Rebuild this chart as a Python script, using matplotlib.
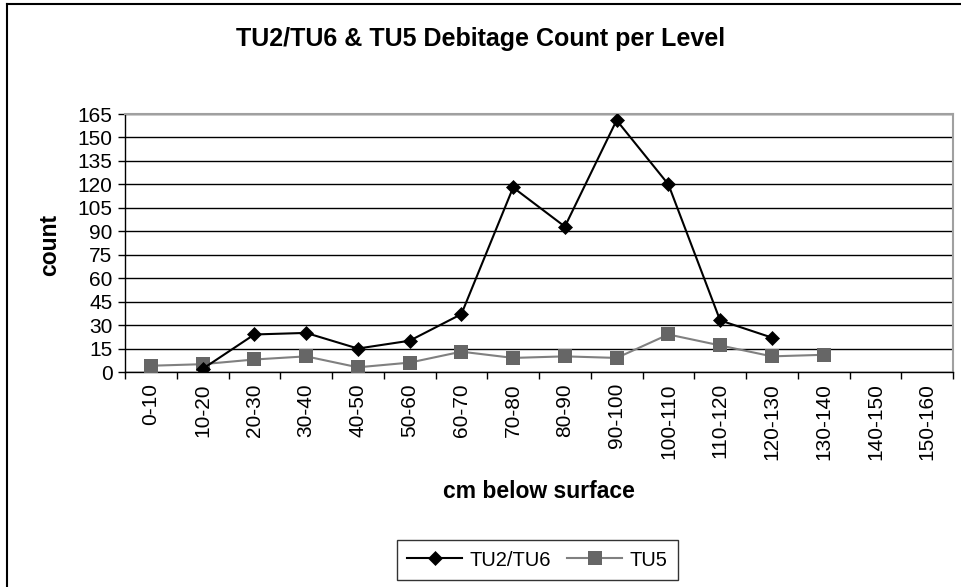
import numpy as np
import matplotlib
matplotlib.use("Agg")
import matplotlib.pyplot as plt
from matplotlib.lines import Line2D

plt.rcParams['font.family'] = ['Liberation Sans', 'DejaVu Sans']

# --------------------
# Data
# --------------------
levels = ["0-10", "10-20", "20-30", "30-40", "40-50", "50-60", "60-70", "70-80",
          "80-90", "90-100", "100-110", "110-120", "120-130", "130-140",
          "140-150", "150-160"]
tu2_tu6 = [np.nan, 2, 24, 25, 15, 20, 37, 118, 93, 161, 120, 33, 22,
           np.nan, np.nan, np.nan]
tu5 = [4, 5, 8, 10, 3, 6, 13, 9, 10, 9, 24, 17, 10, 11, np.nan, np.nan]
y_ticks = list(range(0, 166, 15))

# --------------------
# Figure + axes
# --------------------
W, H = 961, 587
fig = plt.figure(figsize=(W / 100, H / 100), dpi=100)
ax = fig.add_axes([125 / W, 1 - 372 / H, (953 - 125) / W, (372 - 114) / H])

x = np.arange(len(levels))
ax.plot(x, tu2_tu6, color="black", lw=1.5, marker="D", ms=7.5,
        mfc="black", mec="black", mew=0.5, label="TU2/TU6", zorder=4)
ax.plot(x, tu5, color="#808080", lw=1.5, marker="s", ms=9.5,
        mfc="#666666", mec="#666666", mew=0, label="TU5", zorder=3)

ax.set_xlim(-0.5, len(levels) - 0.5)
ax.set_ylim(0, 165)
ax.set_yticks(y_ticks)
ax.set_xticks(x)
ax.set_xticklabels(levels, rotation=90, fontsize=15)
ax.set_xticks(np.arange(-0.5, len(levels)), minor=True)
ax.tick_params(axis="x", which="major", length=0, pad=8)
ax.tick_params(axis="x", which="minor", length=5, width=1, direction="out")
ax.tick_params(axis="y", length=5, width=1, labelsize=15, pad=4)

ax.grid(axis="y", color="black", lw=1)
ax.set_axisbelow(True)
for side in ["top", "right"]:
    ax.spines[side].set_color("#a0a0a0")
    ax.spines[side].set_linewidth(1.5)
for side in ["left", "bottom"]:
    ax.spines[side].set_color("black")
    ax.spines[side].set_linewidth(1)

# --------------------
# Text
# --------------------
fig.text(481 / W, 1 - 39 / H, "TU2/TU6 & TU5 Debitage Count per Level",
         ha="center", va="center", fontsize=18, fontweight="bold")
fig.text(50 / W, 1 - 245 / H, "count", rotation=90, ha="center", va="center",
         fontsize=16.5, fontweight="bold")
fig.text(539 / W, 1 - 492 / H, "cm below surface", ha="center", va="center",
         fontsize=16.5, fontweight="bold")

leg = fig.legend(loc="center", bbox_to_anchor=(537.5 / W, 1 - 560 / H), ncol=2,
                 fontsize=14.5, frameon=True, fancybox=False, edgecolor="black",
                 handlelength=2.7, columnspacing=0.8, handletextpad=0.4,
                 borderpad=0.5)
leg.get_frame().set_linewidth(1)

# outer chart frame (left + top only visible)
fig.add_artist(Line2D([7 / W, 7 / W], [0, 1 - 4 / H], color="black", lw=1.5,
                      transform=fig.transFigure))
fig.add_artist(Line2D([7 / W, 1], [1 - 4 / H, 1 - 4 / H], color="black", lw=1.5,
                      transform=fig.transFigure))

fig.savefig("out.png", dpi=100)
